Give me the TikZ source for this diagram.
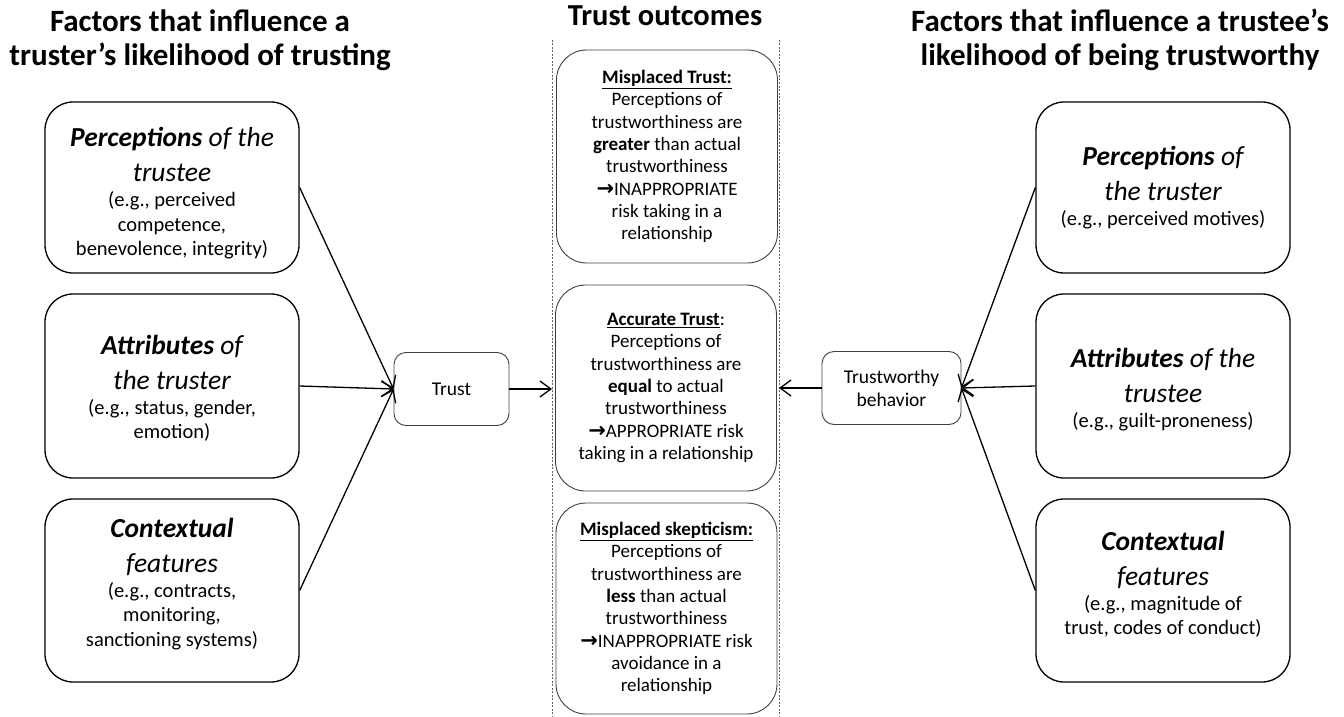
\documentclass[tikz,border=0pt]{standalone}
\usepackage{fontspec}
\setmainfont{Carlito}
\newfontfamily\arrowfont{DejaVu Sans}
\usetikzlibrary{arrows.meta}

\tikzset{
  factor/.style={draw=black, line width=1.3pt, rounded corners=28pt, minimum width=254pt,
    align=center, inner sep=0pt, font=\fontsize{20.5}{24.5}\selectfont},
  outcome/.style={draw=black!75, line width=0.9pt, rounded corners=30pt, minimum width=221pt,
    align=center, inner sep=0pt, font=\fontsize{19}{22.3}\selectfont},
  hub/.style={draw=black!75, line width=0.9pt, rounded corners=12pt, minimum height=73pt,
    align=center, inner sep=0pt, font=\fontsize{19.5}{23}\selectfont},
  heading/.style={font=\fontsize{31}{34}\selectfont\bfseries, align=center, inner sep=0pt},
  link/.style={line width=1.3pt, -{Straight Barb[length=11pt,width=16pt,line width=1.3pt]}},
  divider/.style={black!60, line width=0.8pt, dash pattern=on 2pt off 1.5pt}
}
\newcommand{\fachead}[1]{{\fontsize{27.5}{31}\selectfont\itshape #1}}
\newcommand{\toarrow}{{\arrowfont\bfseries\fontsize{21}{22.3}\selectfont →}}

\begin{document}
\begin{tikzpicture}[x=1pt, y=-1pt]
  \useasboundingbox (0,0) rectangle (1344,717);

  % titles
  \node[heading] (htruster) at (200,40) {Factors that influence a\\truster’s likelihood of trusting};
  \node[heading, font=\fontsize{30.5}{34}\selectfont\bfseries, anchor=base] (houtcome) at (665,26) {Trust outcomes};
  \node[heading] (htrustee) at (1120,40) {Factors that influence a trustee’s\\likelihood of being trustworthy};

  % outcome column
  \coordinate (dtl) at (552,40);
  \coordinate (dbl) at (552,717);
  \coordinate (dtr) at (779,40);
  \coordinate (dbr) at (779,717);
  \draw[divider] (dtl) -- (dbl);
  \draw[divider] (dtr) -- (dbr);
  \coordinate (din) at (552,389);
  \coordinate (dout) at (779,388);

  \node[outcome, minimum height=213pt] (misplaced) at (667,156.5)
    {\underline{\textbf{Misplaced Trust:}}\\Perceptions of\\trustworthiness are\\
     \textbf{greater} than actual\\trustworthiness\\\toarrow INAPPROPRIATE\\risk taking in a\\relationship};
  \node[outcome, minimum height=206pt] (accurate) at (666,388)
    {\underline{\textbf{Accurate Trust}}:\\Perceptions of\\trustworthiness are\\
     \textbf{equal} to actual\\trustworthiness\\\toarrow APPROPRIATE risk\\taking in a relationship};
  \node[outcome, minimum height=211pt] (skeptic) at (666.5,608.5)
    {\underline{\textbf{Misplaced skepticism:}}\\Perceptions of\\trustworthiness are\\
     \textbf{less} than actual\\trustworthiness\\\toarrow INAPPROPRIATE risk\\avoidance in a\\relationship};

  % truster side
  \node[factor, minimum height=171pt] (pertrustee) at (172,187.5)
    {\rule{0pt}{31pt}\fachead{\textbf{Perceptions} of the}\\[10.5pt]\fachead{trustee}\\[0.5pt](e.g., perceived\\competence,\\benevolence, integrity)};
  \node[factor, minimum height=184pt] (atttruster) at (172,386)
    {\rule{0pt}{24pt}\fachead{\textbf{Attributes} of}\\[10.5pt]\fachead{the truster}\\[0.5pt](e.g., status, gender,\\emotion)};
  \node[factor, minimum height=183pt] (ctxtruster) at (172,590.5)
    {\fachead{\textbf{Contextual}}\\[10.5pt]\fachead{features}\\[0.5pt](e.g., contracts,\\monitoring,\\sanctioning systems)\rule[-17pt]{0pt}{0pt}};
  \node[hub, minimum width=115pt] (trust) at (451.5,389) {Trust};

  % trustee side
  \node[factor, minimum height=171pt] (pertruster) at (1163,187.5)
    {\fachead{\textbf{Perceptions} of}\\[10.5pt]\fachead{the truster}\\[0.5pt](e.g., perceived motives)};
  \node[factor, minimum height=184pt] (atttrustee) at (1163,386)
    {\rule{0pt}{26pt}\fachead{\textbf{Attributes} of the}\\[10.5pt]\fachead{trustee}\\[0.5pt](e.g., guilt-proneness)};
  \node[factor, minimum height=183pt] (ctxtrustee) at (1163,590.5)
    {\fachead{\textbf{Contextual}}\\[10.5pt]\fachead{features}\\[0.5pt](e.g., magnitude of\\trust, codes of conduct)\rule[-15pt]{0pt}{0pt}};
  \node[hub, minimum width=139pt] (worthy) at (891.5,388) {Trustworthy\\behavior};

  % connectors
  \foreach \src in {pertrustee,atttruster,ctxtruster}
    \draw[link] (\src.east) -- (trust.west);
  \foreach \src in {pertruster,atttrustee,ctxtrustee}
    \draw[link] (\src.west) -- (worthy.east);
  \draw[link] (trust.east) -- (din);
  \draw[link] (worthy.west) -- (dout);
\end{tikzpicture}
\end{document}
